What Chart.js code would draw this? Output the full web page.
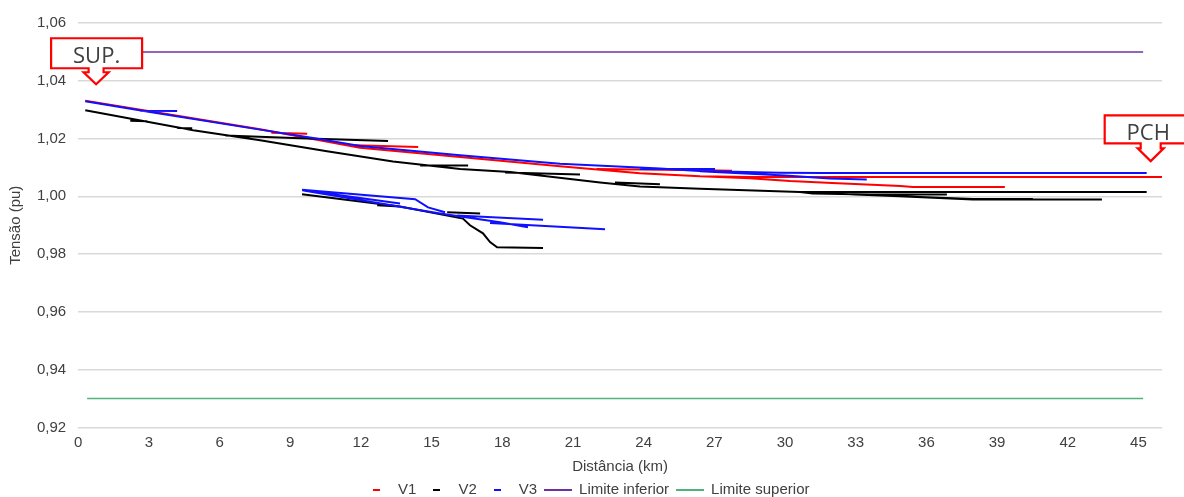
<!DOCTYPE html>
<html><head><meta charset="utf-8">
<style>html,body{margin:0;padding:0;background:#fff;overflow:hidden}#wrap{position:relative;width:1184px;height:507px}</style>
<script src="https://cdn.jsdelivr.net/npm/chart.js@4.4.1/dist/chart.umd.min.js"></script>
</head><body><div id="wrap"><canvas id="c"></canvas></div>
<script>
// ---- tick labels ----
const xTicks = [0,3,6,9,12,15,18,21,24,27,30,33,36,39,42,45];
const xTickLabels = ['0','3','6','9','12','15','18','21','24','27','30','33','36','39','42','45'];
const yTicks = [0.92,0.94,0.96,0.98,1.00,1.02,1.04,1.06];
const yTickLabels = ['0,92','0,94','0,96','0,98','1,00','1,02','1,04','1,06'];
const seriesNames = ['V1','V2','V3','Limite inferior','Limite superior'];

// ---- V1 (segments: km / pu) ----
const v1Km = [
  [0.30, 7.72, 11.96, 16.21, 20.45, 23.84, 26.39, 28.50, 46.00],
  [8.20, 9.72],
  [11.75, 14.43],
  [22.00, 26.52, 27.75],
  [26.39, 28.50, 30.21, 32.00, 34.90, 35.43, 39.33]
];
const v1Pu = [
  [1.0331, 1.0232, 1.0168, 1.0136, 1.0104, 1.0080, 1.0070, 1.0067, 1.0067],
  [1.0220, 1.0217],
  [1.0177, 1.0171],
  [1.0095, 1.0090, 1.0089],
  [1.0070, 1.0063, 1.0053, 1.0046, 1.0036, 1.0032, 1.0032]
];

// ---- V2 ----
const v2Km = [
  [0.30, 4.88, 7.72, 10.56, 13.36, 16.21, 18.33, 22.15, 23.84, 26.39, 30.63, 45.35],
  [2.21, 2.93],
  [4.20, 4.84],
  [6.24, 9.42, 13.15],
  [14.51, 16.55],
  [18.12, 21.30],
  [22.78, 24.69],
  [30.63, 31.18, 33.60, 36.87],
  [31.90, 34.87, 37.97, 40.52],
  [34.87, 37.97, 43.45],
  [9.50, 13.66, 16.33, 16.63, 17.18, 17.48, 17.78, 19.73],
  [15.66, 17.06],
  [12.69, 13.66]
];
const v2Pu = [
  [1.0298, 1.0229, 1.0194, 1.0156, 1.0121, 1.0095, 1.0084, 1.0048, 1.0034, 1.0026, 1.0015, 1.0015],
  [1.0262, 1.0260],
  [1.0237, 1.0236],
  [1.0211, 1.0201, 1.0192],
  [1.0107, 1.0107],
  [1.0083, 1.0076],
  [1.0048, 1.0042],
  [1.0015, 1.0010, 1.0006, 1.0006],
  [1.0010, 1.0000, 0.9991, 0.9991],
  [1.0000, 0.9989, 0.9989],
  [1.0007, 0.9965, 0.9923, 0.9900, 0.9872, 0.9842, 0.9824, 0.9821],
  [0.9945, 0.9941],
  [0.9969, 0.9965]
];

// ---- V3 ----
const v3Km = [
  [0.30, 3.05, 7.72, 9.97, 11.96, 16.21, 20.45, 24.69, 26.39, 29.78, 31.61, 45.35],
  [2.63, 4.20],
  [23.84, 27.03],
  [26.39, 30.00, 31.90, 33.47],
  [9.50, 14.30, 14.85, 15.57],
  [9.50, 15.36, 17.90, 19.09],
  [16.08, 19.73],
  [17.48, 22.36],
  [9.50, 13.66]
];
const v3Pu = [
  [1.0329, 1.0292, 1.0231, 1.0202, 1.0174, 1.0142, 1.0113, 1.0096, 1.0088, 1.0082, 1.0081, 1.0081],
  [1.0296, 1.0295],
  [1.0095, 1.0095],
  [1.0087, 1.0072, 1.0062, 1.0058],
  [1.0023, 0.9990, 0.9962, 0.9945],
  [1.0021, 0.9941, 0.9910, 0.9893],
  [0.9934, 0.9919],
  [0.9908, 0.9886],
  [1.0022, 0.9975]
];

// ---- limits ----
const limKm = [0.38, 45.20];
const limInfPu = [1.05, 1.05];
const limSupPu = [0.93, 0.93];

// ---- annotations ----
const calloutTexts = ['SUP.', 'PCH'];
const calloutKm = [0.76, 45.52];
const calloutPu = [1.0388, 1.0122];

const TEXT = '#404040';
const FONT = "'Liberation Sans', Arial, sans-serif";
const colors = ['#ff0000', '#000000', '#1010ff', '#7030a0', '#52b27c'];

function segPoints(kmSegs, puSegs) {
  const pts = [];
  kmSegs.forEach((seg, s) => {
    seg.forEach((k, i) => pts.push({x: k, y: puSegs[s][i]}));
    pts.push({x: seg[seg.length - 1], y: null});
  });
  return pts;
}
function mark(w, h, color) {
  const c = document.createElement('canvas');
  c.width = w; c.height = h;
  const g = c.getContext('2d');
  g.fillStyle = color; g.fillRect(0, 0, w, h);
  return c;
}
const legendMarks = [mark(7, 2, colors[0]), mark(7, 2, colors[1]), mark(7, 2, colors[2]), mark(28, 2, colors[3]), mark(28, 2, colors[4])];

function ds(i, data, width, order) {
  return {
    label: seriesNames[i], data: data, showLine: true, borderColor: colors[i], backgroundColor: colors[i],
    borderWidth: width, pointRadius: 0, pointHoverRadius: 0, tension: 0, spanGaps: false,
    borderCapStyle: 'butt', order: order
  };
}

const calloutGeom = [
  {left: -45, right: 46, top: -46, bottom: -16, stem: 7.5, head: 12.5, neck: -12, tdx: 0.5, tdy: -21.3},
  {left: -46, right: 50, top: -45.7, bottom: -17.7, stem: 10, head: 13, neck: -12.7, tdx: -2.5, tdy: -21.4}
];
const calloutPlugin = {
  id: 'callouts',
  afterDraw(chart) {
    const ctx = chart.ctx, xs = chart.scales.x, ys = chart.scales.y;
    calloutTexts.forEach((t, i) => {
      const g = calloutGeom[i];
      const tx = xs.getPixelForValue(calloutKm[i]), ty = ys.getPixelForValue(calloutPu[i]);
      ctx.save();
      ctx.beginPath();
      ctx.moveTo(tx + g.left, ty + g.top);
      ctx.lineTo(tx + g.right, ty + g.top);
      ctx.lineTo(tx + g.right, ty + g.bottom);
      ctx.lineTo(tx + g.stem, ty + g.bottom);
      ctx.lineTo(tx + g.stem, ty + g.neck);
      ctx.lineTo(tx + g.head, ty + g.neck);
      ctx.lineTo(tx, ty);
      ctx.lineTo(tx - g.head, ty + g.neck);
      ctx.lineTo(tx - g.stem, ty + g.neck);
      ctx.lineTo(tx - g.stem, ty + g.bottom);
      ctx.lineTo(tx + g.left, ty + g.bottom);
      ctx.closePath();
      ctx.fillStyle = '#ffffff'; ctx.fill();
      ctx.lineWidth = 2.2; ctx.strokeStyle = '#ff0000'; ctx.lineJoin = 'miter'; ctx.stroke();
      ctx.fillStyle = '#404040';
      ctx.font = "22px 'Open Sans', 'Noto Sans', sans-serif";
      ctx.textAlign = 'center'; ctx.textBaseline = 'alphabetic';
      ctx.fillText(t, tx + g.tdx, ty + g.tdy);
      ctx.restore();
    });
  },
  afterLayout(chart) {
    if (chart.legend) { chart.legend.left += 5; chart.legend.right += 5; }
  }
};

Chart.defaults.font.family = FONT;
Chart.defaults.font.size = 15;
Chart.defaults.color = TEXT;

new Chart(document.getElementById('c'), {
  type: 'scatter',
  data: {
    datasets: [
      ds(0, segPoints(v1Km, v1Pu), 2, 3),
      ds(1, segPoints(v2Km, v2Pu), 2, 2),
      ds(2, segPoints(v3Km, v3Pu), 2, 1),
      ds(3, limKm.map((k, i) => ({x: k, y: limInfPu[i]})), 1.5, 4),
      ds(4, limKm.map((k, i) => ({x: k, y: limSupPu[i]})), 1.5, 5)
    ]
  },
  options: {
    responsive: true, maintainAspectRatio: false, animation: false, devicePixelRatio: 1,
    layout: {padding: {top: 23, right: 22, bottom: 0, left: 0}},
    scales: {
      x: {
        type: 'linear', min: 0, max: 46,
        afterBuildTicks: s => { s.ticks = xTicks.map(v => ({value: v})); },
        ticks: {callback: (v, i) => xTickLabels[i], padding: 6, maxRotation: 0, autoSkip: false, color: TEXT},
        grid: {display: false, drawTicks: false, tickLength: 0},
        border: {display: false},
        title: {display: true, text: 'Distância (km)', color: TEXT, padding: {top: 0, bottom: 0}}
      },
      y: {
        type: 'linear', min: 0.92, max: 1.06,
        afterBuildTicks: s => { s.ticks = yTicks.map(v => ({value: v})); },
        ticks: {callback: (v, i) => yTickLabels[i], padding: 12, color: TEXT},
        grid: {color: '#d9d9d9', lineWidth: 1.5, drawTicks: false, tickLength: 0},
        border: {display: false},
        title: {display: true, text: 'Tensão (pu)', color: TEXT, padding: {top: 7, bottom: 0}}
      }
    },
    plugins: {
      tooltip: {enabled: false},
      legend: {
        position: 'bottom',
        labels: {
          usePointStyle: true, pointStyleWidth: 28, padding: 6.5, color: TEXT,
          font: {size: 15},
          sort: (a, b) => a.datasetIndex - b.datasetIndex,
          generateLabels(chart) {
            const items = Chart.defaults.plugins.legend.labels.generateLabels(chart);
            items.forEach(it => { it.pointStyle = legendMarks[it.datasetIndex]; });
            return items;
          }
        }
      }
    }
  },
  plugins: [calloutPlugin]
});
</script>
</body></html>
